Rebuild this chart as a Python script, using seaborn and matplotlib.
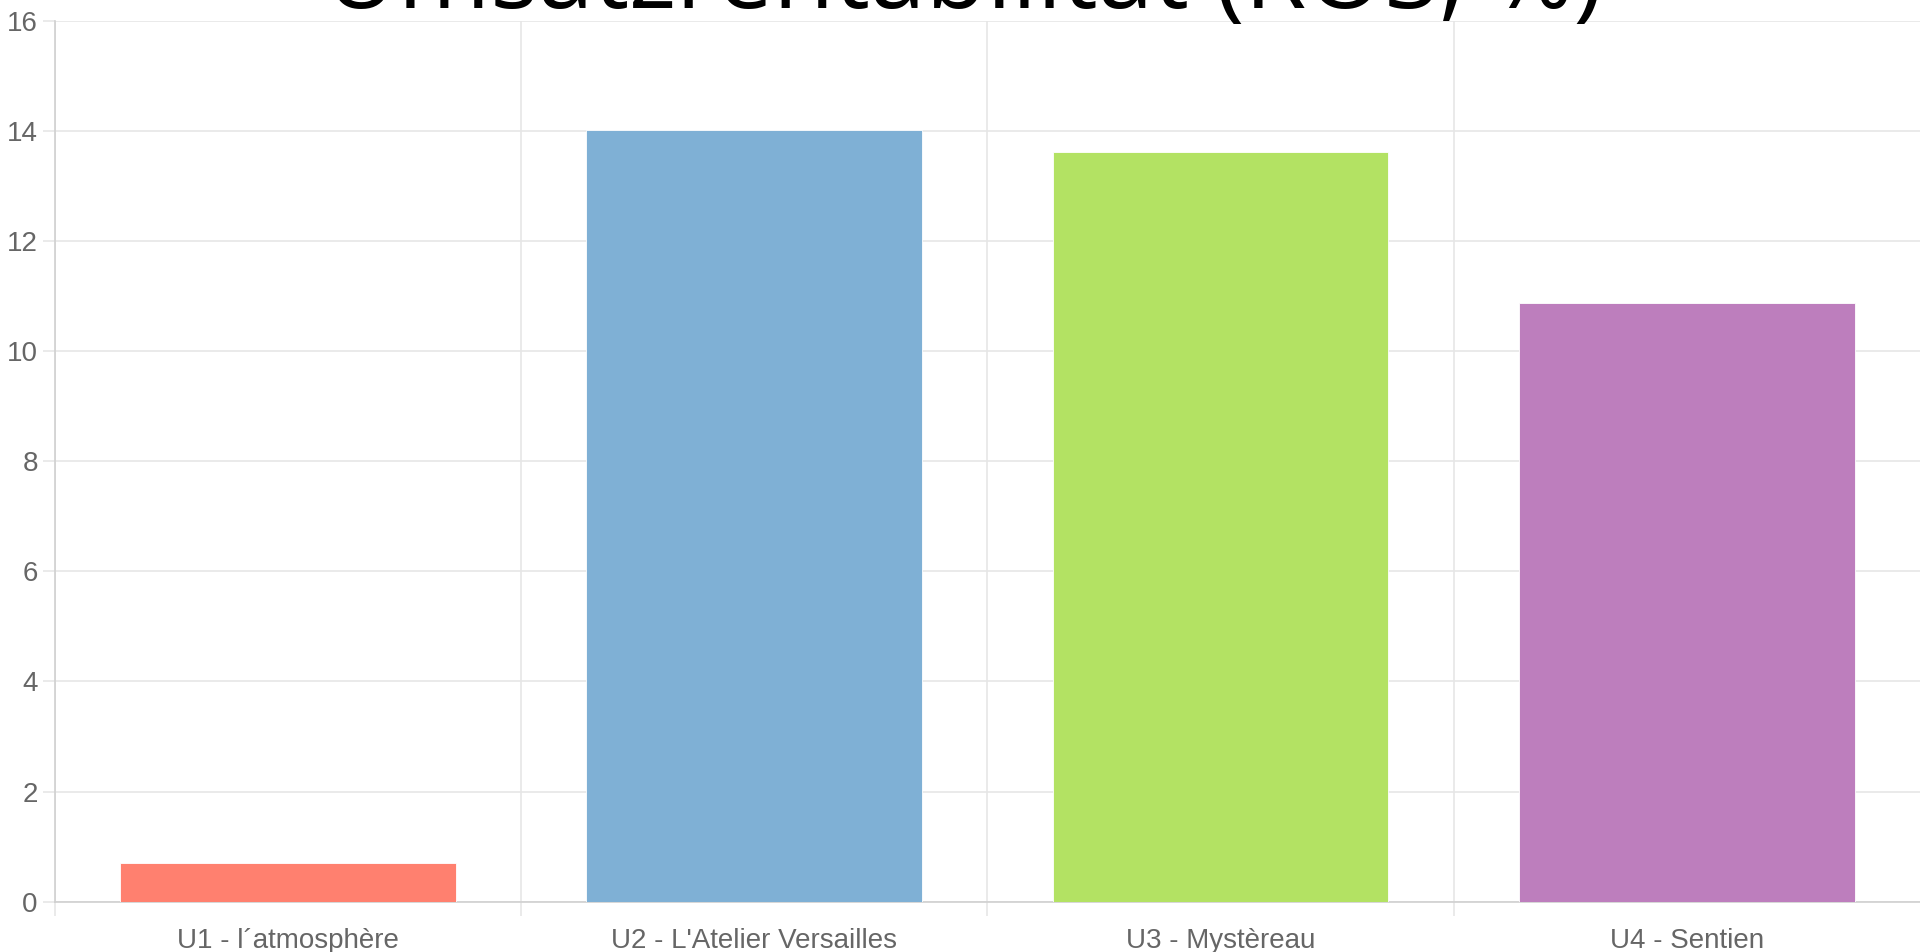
import matplotlib
matplotlib.use("Agg")
import matplotlib.pyplot as plt
import seaborn as sns
import pandas as pd

# data
categories = ["U1 - l´atmosphère", "U2 - L'Atelier Versailles", "U3 - Mystèreau", "U4 - Sentien"]
ros_values = [0.70, 14.02, 13.62, 10.88]
bar_colors = ["#ff806f", "#7fb0d5", "#b3e263", "#bd7ebd"]
y_ticks = [0, 2, 4, 6, 8, 10, 12, 14, 16]
title = "Umsatzrentabilität (ROS, %)"

df = pd.DataFrame({"unit": categories, "ros": ros_values})

sns.set_theme(style="white")
plt.rcParams["font.family"] = ["Liberation Sans", "DejaVu Sans"]

fig = plt.figure(figsize=(19.2, 9.52), dpi=100)
ax = fig.add_axes([54.5 / 1920, 50.3 / 952, 1 - 54.5 / 1920, 881.1 / 952])

sns.barplot(data=df, x="unit", y="ros", hue="unit", palette=bar_colors,
            width=0.72, saturation=1, legend=False, ax=ax, zorder=3,
            edgecolor="white", linewidth=0.6)

grid_col = "#e6e6e6"
ax.set_xlim(-0.5, 3.5)
ax.set_ylim(0, 16)
ax.set_yticks(y_ticks)
ax.set_yticklabels([str(t) for t in y_ticks])
ax.set_xticks(range(len(categories)))
ax.set_xticks([-0.5, 0.5, 1.5, 2.5], minor=True)
ax.set_xlabel("")
ax.set_ylabel("")

ax.yaxis.grid(True, color=grid_col, linewidth=1.2, zorder=0)
ax.xaxis.grid(True, which="minor", color=grid_col, linewidth=1.2, zorder=0)
ax.xaxis.grid(False, which="major")
ax.set_axisbelow(True)

for side in ["top", "right"]:
    ax.spines[side].set_visible(False)
ax.spines["left"].set_color("#d0d0d0")
ax.spines["bottom"].set_color("#d0d0d0")
ax.spines["left"].set_linewidth(1.2)
ax.spines["bottom"].set_linewidth(1.2)

ax.tick_params(axis="y", which="major", length=9, width=1.2, color=grid_col,
               labelsize=20, labelcolor="#666666", pad=3, left=True)
ax.tick_params(axis="x", which="major", length=0, labelsize=20,
               labelcolor="#666666", pad=19)
ax.tick_params(axis="x", which="minor", length=10, width=1.2, color=grid_col,
               bottom=True)

fig.text(0.502, 1 - 8 / 952, title, ha="center", va="baseline",
         fontsize=72, color="black", family=["Open Sans", "DejaVu Sans"])

fig.savefig("out.png", dpi=100)
